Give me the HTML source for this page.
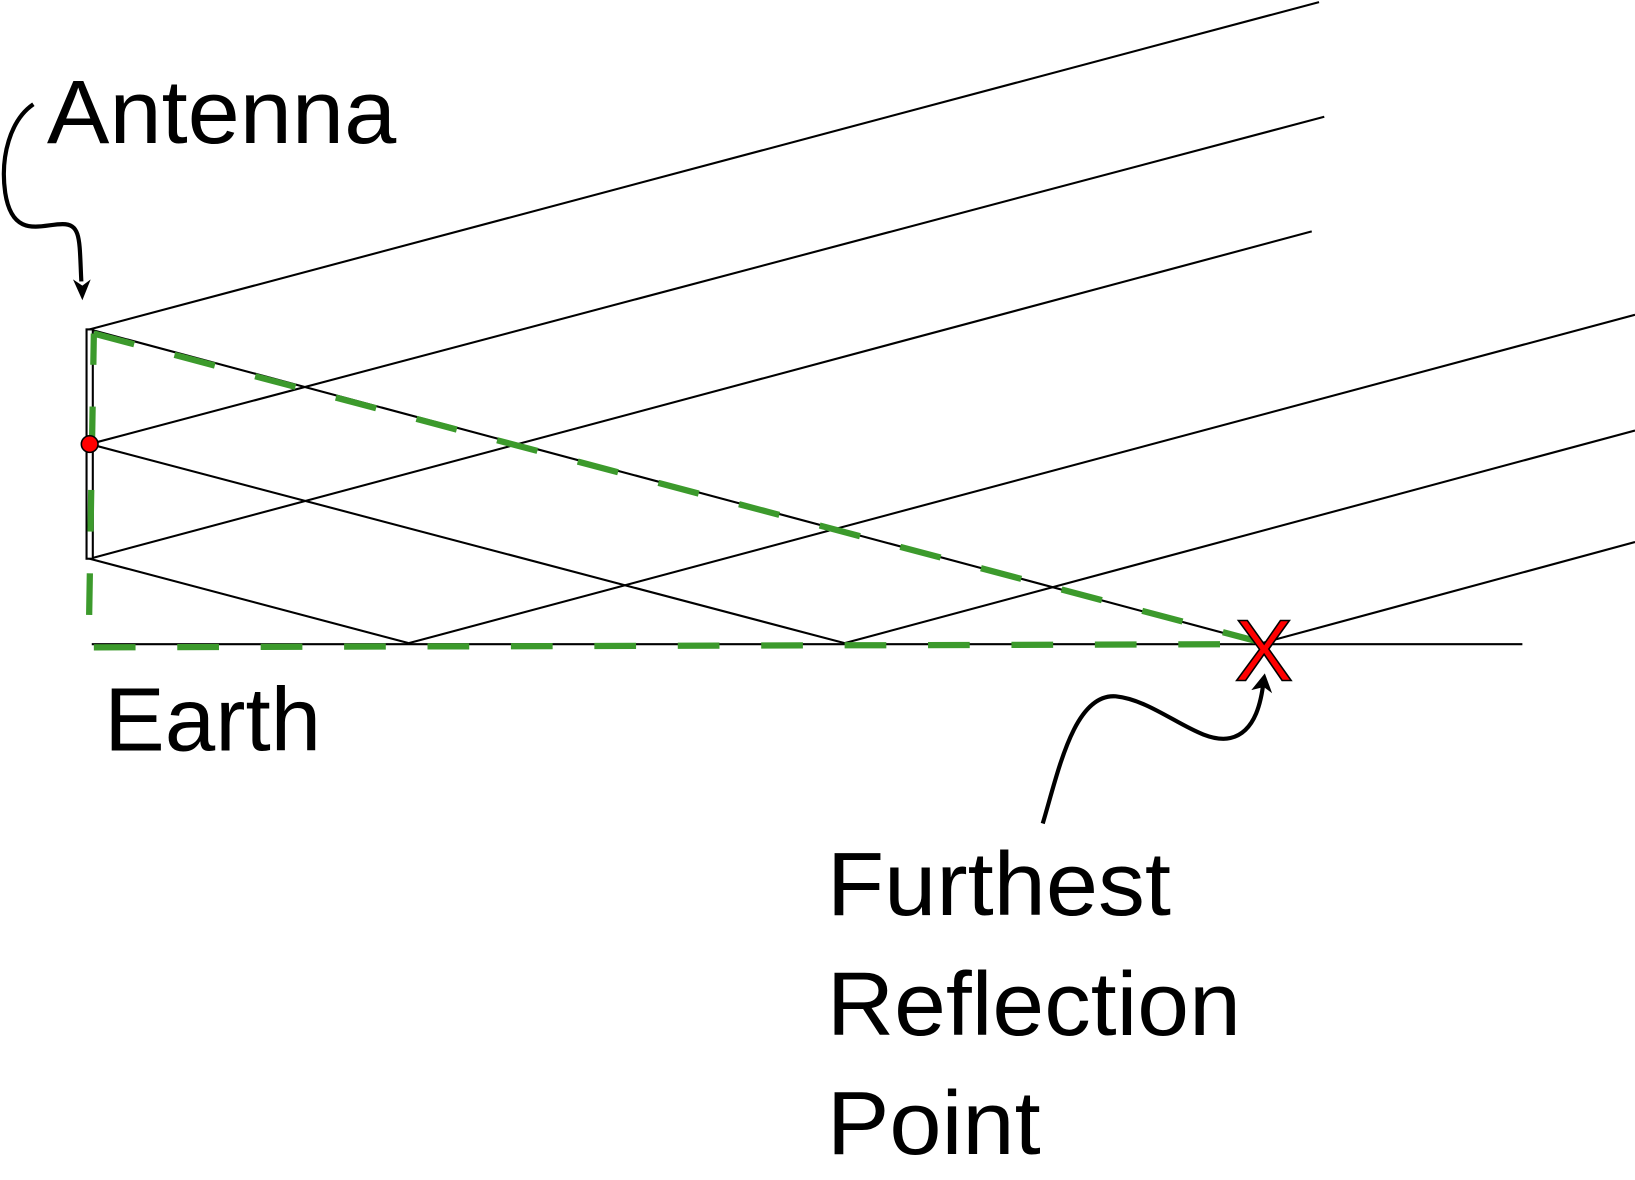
<!DOCTYPE html>
<html><head><style>html,body{margin:0;padding:0;background:#fff;}svg{display:block}</style></head>
<body>
<svg width="1635" height="1180" viewBox="0 0 1568 1132" preserveAspectRatio="none" xmlns="http://www.w3.org/2000/svg">
<g stroke="#000" stroke-width="2" fill="none">
<line x1="86" y1="316" x2="1265" y2="2"/>
<line x1="86" y1="426" x2="1270" y2="112"/>
<line x1="86" y1="536" x2="1258" y2="222"/>
<line x1="86" y1="316" x2="1210" y2="617"/>
<line x1="86" y1="426" x2="810" y2="617"/>
<line x1="86" y1="536" x2="392" y2="617"/>
<line x1="392" y1="617" x2="1568" y2="302"/>
<line x1="810" y1="617" x2="1568" y2="413"/>
<line x1="1210" y1="617" x2="1568" y2="520"/>
<line x1="88" y1="618" x2="1460" y2="618"/>
<rect x="83" y="316" width="6" height="220" fill="#fff"/>
</g>
<g stroke="#3c9a2c" stroke-width="6" fill="none" stroke-dasharray="40 40">
<line x1="90" y1="320" x2="1205" y2="615"/>
<line x1="90" y1="320" x2="85" y2="620" stroke-dashoffset="10"/>
<line x1="90" y1="621" x2="1200" y2="618"/>
</g>
<circle cx="86" cy="426" r="8" fill="#f00" stroke="#000" stroke-width="1.5"/>
<g fill="none" stroke="#000" stroke-width="4">
<path d="M32 100 C10 115 0 150 5 185 C12 230 40 215 60 215 C78 215 76 230 78 270"/>
<path d="M1000 790 C1015 740 1030 665 1070 668 C1110 672 1150 715 1180 708 C1205 702 1210 670 1212 652"/>
</g>
<path d="M70 268 L79 288 L87 268 L79 274 Z" fill="#000"/>
<path d="M1200 662 L1213 646 L1220 665 L1212 659 Z" fill="#000"/>
<text x="1212" y="653" font-family="Liberation Sans, sans-serif" font-size="84" fill="#f00" stroke="#000" stroke-width="1.5" text-anchor="middle">X</text>
<g font-family="Liberation Sans, sans-serif" font-size="86" fill="#000">
<text x="45" y="137" textLength="335" lengthAdjust="spacingAndGlyphs">Antenna</text>
<text x="100" y="720" textLength="208" lengthAdjust="spacingAndGlyphs">Earth</text>
<text x="793" y="878" textLength="330" lengthAdjust="spacingAndGlyphs">Furthest</text>
<text x="793" y="993" textLength="397" lengthAdjust="spacingAndGlyphs">Reflection</text>
<text x="793" y="1107" textLength="205" lengthAdjust="spacingAndGlyphs">Point</text>
</g>
</svg>
</body></html>
